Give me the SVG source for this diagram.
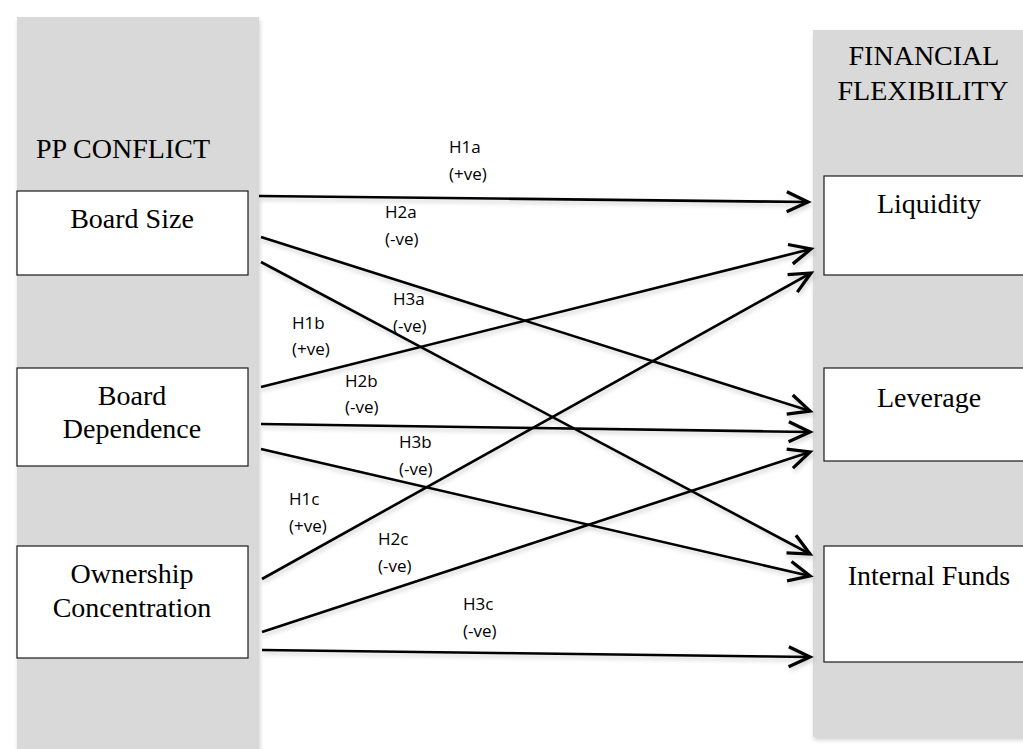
<svg xmlns="http://www.w3.org/2000/svg" width="1023" height="749" viewBox="0 0 1023 749">
<defs>
<style>
.panel{fill:#d9d9d9}
.box{fill:#fff;stroke:#1a1a1a;stroke-width:1.2}
.t{font-family:"Liberation Serif","Times New Roman",serif;font-size:28px;fill:#000}
.c{text-anchor:middle}
.lbl{font-family:"Open Sans","Liberation Sans",sans-serif;font-size:17px;fill:#000}
.ln{stroke:#000;stroke-width:2.6;fill:none;marker-end:url(#arr)}
</style>
<marker id="arr" markerUnits="userSpaceOnUse" markerWidth="30" markerHeight="30" refX="0" refY="0" viewBox="-20 -12 24 24" orient="auto" overflow="visible">
<path d="M-17,-8 L0,0 L-17,8" fill="none" stroke="#000" stroke-width="2.6" stroke-linejoin="miter"/>
</marker>
<filter id="sh" x="-5%" y="-5%" width="115%" height="115%">
<feDropShadow dx="1" dy="3" stdDeviation="2" flood-color="#000" flood-opacity="0.18"/>
</filter>
</defs>
<g id="left-panel">
<rect class="panel" x="17" y="17" width="242" height="740" filter="url(#sh)"/>
<text class="t" x="36" y="158">PP CONFLICT</text>
</g>
<g id="right-panel">
<rect class="panel" x="813" y="30" width="220" height="707" filter="url(#sh)"/>
<text class="t c" x="924" y="65">FINANCIAL</text>
<text class="t c" x="923" y="100">FLEXIBILITY</text>
</g>
<g id="board-size">
<rect class="box" x="17" y="191" width="231" height="84"/>
<text class="t c" x="132" y="228">Board Size</text>
</g>
<g id="board-dependence">
<rect class="box" x="17" y="368" width="231" height="98"/>
<text class="t c" x="132" y="405">Board</text>
<text class="t c" x="132" y="438">Dependence</text>
</g>
<g id="ownership-concentration">
<rect class="box" x="17" y="546" width="231" height="112"/>
<text class="t c" x="132" y="583">Ownership</text>
<text class="t c" x="132" y="617">Concentration</text>
</g>
<g id="liquidity">
<rect class="box" x="824" y="176" width="210" height="99"/>
<text class="t c" x="929" y="213">Liquidity</text>
</g>
<g id="leverage">
<rect class="box" x="824" y="368" width="210" height="93"/>
<text class="t c" x="929" y="407">Leverage</text>
</g>
<g id="internal-funds">
<rect class="box" x="824" y="546" width="210" height="116"/>
<text class="t c" x="929" y="585">Internal Funds</text>
</g>
<g id="connectors" filter="url(#sh)">
<line class="ln" x1="259" y1="196" x2="808" y2="202"/>
<line class="ln" x1="261" y1="237" x2="810" y2="411"/>
<line class="ln" x1="261" y1="262" x2="810" y2="554"/>
<line class="ln" x1="261" y1="387" x2="811" y2="249"/>
<line class="ln" x1="261" y1="424" x2="810" y2="432"/>
<line class="ln" x1="261" y1="449" x2="810" y2="576"/>
<line class="ln" x1="262" y1="579" x2="811" y2="273"/>
<line class="ln" x1="262" y1="632" x2="810" y2="452"/>
<line class="ln" x1="262" y1="650" x2="810" y2="657"/>
</g>
<g id="labels">
<text class="lbl" x="449" y="153">H1a</text><text class="lbl" x="449" y="180">(+ve)</text>
<text class="lbl" x="385" y="218">H2a</text><text class="lbl" x="385" y="245">(-ve)</text>
<text class="lbl" x="393" y="305">H3a</text><text class="lbl" x="393" y="332">(-ve)</text>
<text class="lbl" x="292" y="329">H1b</text><text class="lbl" x="292" y="355">(+ve)</text>
<text class="lbl" x="345" y="387">H2b</text><text class="lbl" x="345" y="413">(-ve)</text>
<text class="lbl" x="399" y="448">H3b</text><text class="lbl" x="399" y="475">(-ve)</text>
<text class="lbl" x="289" y="505">H1c</text><text class="lbl" x="289" y="532">(+ve)</text>
<text class="lbl" x="378" y="545">H2c</text><text class="lbl" x="378" y="572">(-ve)</text>
<text class="lbl" x="463" y="610">H3c</text><text class="lbl" x="463" y="637">(-ve)</text>
</g>
</svg>
